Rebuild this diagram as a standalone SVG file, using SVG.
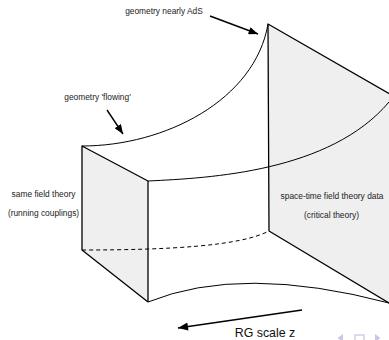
<svg xmlns="http://www.w3.org/2000/svg" width="389" height="340" viewBox="0 0 389 340">
<defs>
<style>
.edge{fill:none;stroke:#000;stroke-width:1.3;stroke-linejoin:round}
.curve{fill:none;stroke:#000;stroke-width:1}
.dash{fill:none;stroke:#000;stroke-width:1;stroke-dasharray:4 3}
.face{fill:#efefef;stroke:none}
.lbl{font-family:"Liberation Sans",Arial,sans-serif;font-size:8.4px;fill:#222;text-anchor:middle}
.big{font-family:"Liberation Sans",Arial,sans-serif;font-size:12.4px;fill:#111;text-anchor:middle}
.arr{fill:none;stroke:#000;stroke-width:1.4}
.nav{fill:#c8c8e6;stroke:none}
</style>
<marker id="ah" viewBox="0 0 10 8" refX="10" refY="4" markerWidth="10" markerHeight="7.5" markerUnits="userSpaceOnUse" orient="auto">
<path d="M0,0 L10,4 L0,8 Z" fill="#000"/>
</marker>
<marker id="ahBig" viewBox="0 0 10 8" refX="10" refY="4" markerWidth="16" markerHeight="8" markerUnits="userSpaceOnUse" orient="auto">
<path d="M0,0 L10,4 L0,8 Z" fill="#000"/>
</marker>
</defs>

<g id="right-panel">
<polygon class="face" points="268,24 420,111.3 420,321.6 269,231"/>
<polyline class="edge" points="420,111.3 268,24 269,231 420,321.6"/>
</g>

<g id="left-panel">
<polygon class="face" points="82,146 148,181 148,302 82,250"/>
<polyline class="edge" points="148,181 82,146 82,250 148,302"/>
</g>

<g id="front-face">
<line class="edge" x1="148" y1="181" x2="148" y2="302"/>
<path class="curve" d="M148,181 C210,178 330,172 389,102"/>
<path class="curve" d="M148,302 Q241.5,264 389,303"/>
</g>

<g id="back-edges">
<path class="curve" d="M82,146 C165,146 255,100 268,24"/>
<path class="dash" d="M82,250 C170,250 240,246 269,231"/>
</g>

<g id="connectors">
<line class="arr" x1="210" y1="16" x2="258" y2="34" marker-end="url(#ah)"/>
<line class="arr" x1="107" y1="110" x2="123" y2="134" marker-end="url(#ah)"/>
<line class="arr" x1="302" y1="310" x2="178" y2="328" stroke-width="1.5" marker-end="url(#ahBig)"/>
</g>

<g id="label-ads"><text class="lbl" x="164" y="13.5">geometry nearly AdS</text></g>
<g id="label-flowing"><text class="lbl" x="97.5" y="100">geometry 'flowing'</text></g>
<g id="label-same">
<text class="lbl" x="43.5" y="197">same field theory</text>
<text class="lbl" x="43.5" y="216">(running couplings)</text>
</g>
<g id="label-spacetime">
<text class="lbl" x="332" y="199">space-time field theory data</text>
<text class="lbl" x="331.5" y="218">(critical theory)</text>
</g>
<g id="label-rg"><text class="big" x="265" y="336.5">RG scale z</text></g>

<g id="nav">
<polygon class="nav" points="343,334 337.5,338 343,342"/>
<rect x="355" y="335" width="9" height="8" fill="none" stroke="#c8c8e6" stroke-width="1.3"/>
<polygon class="nav" points="375,334 380.5,338 375,342"/>
</g>
</svg>
